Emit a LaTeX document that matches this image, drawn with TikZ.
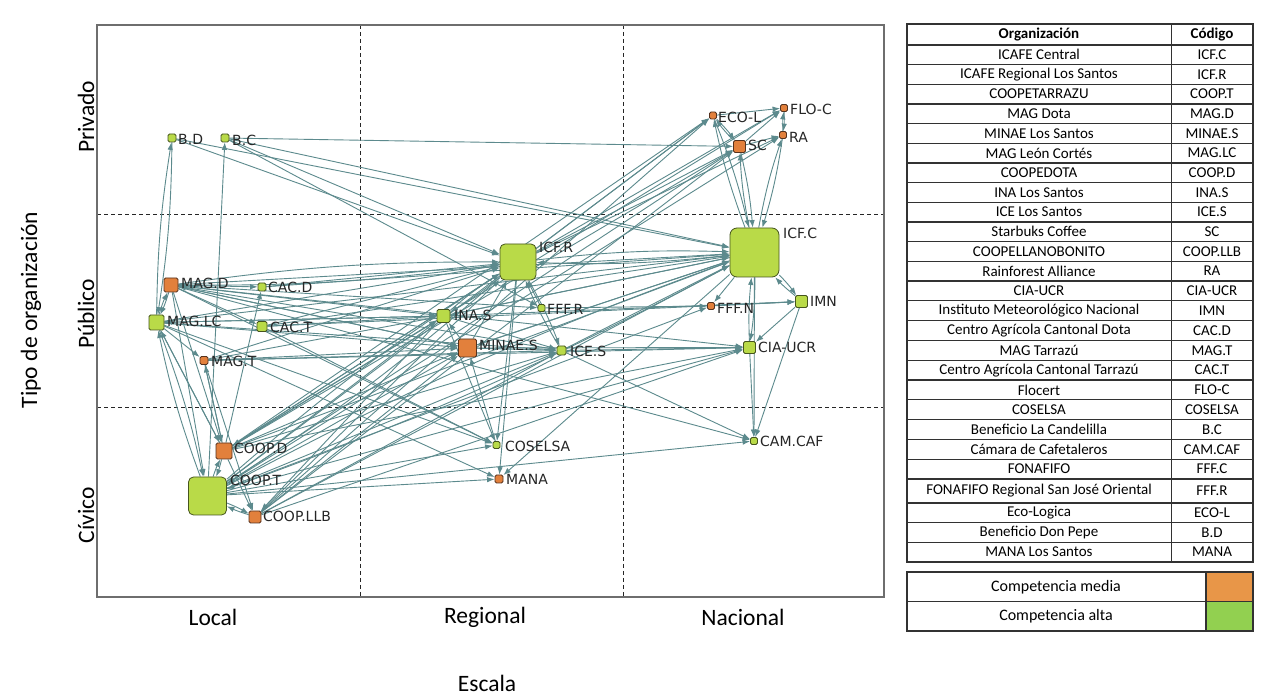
\documentclass[tikz,border=0pt]{standalone}
\usepackage{fontspec}
\setmainfont{Carlito}
\newfontfamily\labfont{DejaVu Sans}
\usetikzlibrary{arrows.meta,backgrounds}
\definecolor{edgec}{RGB}{92,138,141}
\definecolor{gfill}{RGB}{185,218,72}
\definecolor{gdraw}{RGB}{70,85,30}
\definecolor{ofill}{RGB}{226,128,60}
\definecolor{odraw}{RGB}{85,50,30}
\definecolor{legor}{RGB}{232,150,72}
\definecolor{leggr}{RGB}{146,208,80}
\definecolor{tabline}{RGB}{50,50,50}
\definecolor{framec}{RGB}{110,110,110}
\tikzset{
  gn/.style={rectangle, draw=gdraw, fill=gfill, line width=0.8pt, inner sep=0pt, rounded corners=1.5pt},
  on/.style={rectangle, draw=odraw, fill=ofill, line width=0.8pt, inner sep=0pt, rounded corners=1.5pt},
  lab/.style={anchor=west, inner sep=0pt, text=black!85, font=\labfont\fontsize{14}{14}\selectfont},
  ed/.style={draw=edgec, line width=0.9pt, -{Latex[length=7.5pt,width=5.5pt]}},
  axl/.style={inner sep=0pt, text=black, font=\fontsize{23.5}{24}\selectfont},
  tabt/.style={inner sep=0pt, font=\fontsize{15}{15}\selectfont, text=black},
  dsh/.style={draw=black!85, line width=0.9pt, dash pattern=on 4pt off 3pt}
}
\newcommand{\nnode}[8]{%
  \node[#2, minimum size=#3pt] (#1) at (#4,#5) {};
  \node[lab] (#1-l) at (#7,#8) {#6};
}
\begin{document}
\begin{tikzpicture}[x=1pt,y=-1pt]
\useasboundingbox (0,0) rectangle (1278,700);

% nodes
\nnode{bd}{gn}{8}{172}{138}{B.D}{178}{139}
\nnode{bc}{gn}{8}{225}{138}{B.C}{232}{140}
\nnode{magd}{on}{14}{171}{285}{MAG.D}{181}{283}
\nnode{cacd}{gn}{8}{262}{287}{CAC.D}{268}{287}
\nnode{maglc}{gn}{15}{156.5}{322.5}{MAG.LC}{167}{321}
\nnode{cact}{gn}{10}{262}{326.5}{CAC.T}{270}{327}
\nnode{magt}{on}{8}{204}{360.5}{MAG.T}{211}{361}
\nnode{coopd}{on}{16}{224}{451}{COOP.D}{234}{448}
\nnode{coopt}{gn,rounded corners=5pt}{38}{207.5}{496}{COOP.T}{230}{480}
\nnode{coopllb}{on}{12}{255}{517}{COOP.LLB}{263}{516}
\nnode{icfr}{gn,rounded corners=5pt}{36}{518}{262}{ICF.R}{539}{247}
\nnode{inas}{gn}{13}{443.5}{316}{INA.S}{454}{315}
\nnode{fffr}{gn}{7}{541.5}{308}{FFF.R}{547}{309}
\nnode{minaes}{on}{18}{467.5}{348}{MINAE.S}{479}{345}
\nnode{ices}{gn}{9}{561.5}{350.5}{ICE.S}{570}{351}
\nnode{coselsa}{gn}{7}{496.5}{445}{COSELSA}{505}{446}
\nnode{mana}{on}{8}{499}{479}{MANA}{506}{479}
\nnode{ecol}{on}{7}{713}{115.5}{ECO-L}{718}{117}
\nnode{floc}{on}{7}{784}{108}{FLO-C}{790}{109}
\nnode{ra}{on}{7}{783}{135}{RA}{789}{137}
\nnode{sc}{on}{12}{739.5}{146.5}{SC}{748}{145}
\nnode{icfc}{gn,rounded corners=7pt}{49}{754.5}{252.5}{ICF.C}{783}{233}
\nnode{fffn}{on}{7}{711}{306}{FFF.N}{717}{308}
\nnode{imn}{gn}{12}{801.5}{301.5}{IMN}{810}{301}
\nnode{ciaucr}{gn}{12}{749.5}{347.5}{CIA-UCR}{758}{347}
\nnode{camcaf}{gn}{7}{754}{441}{CAM.CAF}{760}{441}

\begin{scope}[on background layer]
  \fill[white] (0,0) rectangle (1278,700);
  % plot frame and grid
  \draw[dsh] (360,25) -- (360,597) (623,25) -- (623,597);
  \draw[dsh] (97,214) -- (884,214) (97,407) -- (884,407);
  \draw[draw=framec, line width=1.4pt] (97,25) rectangle (884,597);
  % mutual edges
  \foreach \a/\b in {maglc/bd, magd/maglc, coopd/coopt, coopt/coopllb, icfr/icfc, icfr/inas,
      icfr/ices, icfc/sc, icfc/ciaucr, icfc/imn, floc/ra, icfr/magd, icfr/coopt, icfc/coopt,
      maglc/coopt, ecol/sc, icfc/ecol, icfc/ra}
    {\draw[ed] (\a) to[bend left=4] (\b); \draw[ed] (\b) to[bend left=4] (\a);}
  % one-way edges
  \foreach \a/\b in {coopt/bc, magd/cacd, magd/cact, maglc/magt, coopd/maglc, magd/coopt,
      magt/coopd, coopd/cacd, coopd/magt, coopd/coopllb, magt/coopllb, magd/coopd, maglc/coopd,
      magd/icfc, magd/inas, magd/minaes, magd/fffr, magd/ices, magd/coselsa, magd/ciaucr, magd/camcaf,
      maglc/icfr, maglc/icfc, maglc/inas, maglc/minaes, maglc/ices, maglc/coselsa, maglc/mana,
      cacd/icfr, cacd/icfc, cact/icfr, cact/icfc, cact/inas, cact/imn, cact/coselsa,
      magt/icfr, magt/inas, magt/minaes, magt/ices, magt/ciaucr,
      bd/icfc, bd/icfr, bc/sc, bc/icfc, bc/icfr, bc/fffr,
      coopt/sc, coopt/inas, coopt/minaes, coopt/ices, coopt/ciaucr, coopt/camcaf, coopt/coselsa,
      coopt/mana, coopt/ecol, coopt/ra, coopt/fffn,
      coopd/icfr, coopd/icfc, coopd/sc, coopd/inas, coopd/minaes, coopd/ices, coopd/ciaucr, coopd/floc,
      coopd/ecol, coopllb/ecol,
      coopllb/icfr, coopllb/icfc, coopllb/sc, coopllb/minaes, coopllb/ciaucr, coopllb/ices,
      inas/coopllb, icfr/coopd, inas/maglc, minaes/magd,
      minaes/icfr, fffr/icfr, minaes/ices, inas/ices, minaes/inas, icfr/coselsa, icfr/mana,
      coselsa/minaes, inas/coselsa,
      inas/icfc, minaes/icfc, ices/icfc, icfr/sc, icfr/ecol, icfr/ra, icfr/floc,
      minaes/ciaucr, ices/ciaucr, inas/imn, icfc/inas, icfc/minaes, ices/camcaf, icfc/mana,
      icfc/fffn, fffn/imn, fffr/fffn,
      sc/floc, sc/ra, ecol/floc, imn/ciaucr, imn/camcaf, ciaucr/camcaf, icfc/camcaf}
    \draw[ed] (\a) -- (\b);
\end{scope}

% axis labels
\node[axl, rotate=90] (privado) at (86,117) {Privado};
\node[axl, rotate=90] (publico) at (86,314) {Público};
\node[axl, rotate=90] (civico) at (86,515) {Cívico};
\node[axl, rotate=90] (tipo) at (31,310) {Tipo de organización};
\node[axl] (local) at (213,617) {Local};
\node[axl] (regional) at (485,617) {Regional};
\node[axl] (nacional) at (743,617) {Nacional};
\node[axl] (escala) at (487,683) {Escala};

% table
\draw[tabline, line width=1.2pt] (907,24) rectangle (1253,562);
\draw[tabline, line width=1.2pt] (1171.5,24) -- (1171.5,562);
\node[tabt, font=\fontsize{15}{15}\selectfont\bfseries] (hdo) at (1039,35) {Organización};
\node[tabt, font=\fontsize{15}{15}\selectfont\bfseries] (hdc) at (1212,35) {Código};
\draw[tabline, line width=1.2pt] (907,45) -- (1253,45);
\foreach \yt/\yb/\o/\c [count=\i] in {
  45/64.7/ICAFE Central/ICF.C,
  64.7/84.3/ICAFE Regional Los Santos/ICF.R,
  84.3/104/COOPETARRAZU/COOP.T,
  104/123.7/MAG Dota/MAG.D,
  123.7/143.3/MINAE Los Santos/MINAE.S,
  143.3/163/MAG León Cortés/MAG.LC,
  163/182.7/COOPEDOTA/COOP.D,
  182.7/202.3/INA Los Santos/INA.S,
  202.3/222/ICE Los Santos/ICE.S,
  222/241.7/Starbuks Coffee/SC,
  241.7/261.3/COOPELLANOBONITO/COOP.LLB,
  261.3/281/Rainforest Alliance/RA,
  281/300.8/CIA-UCR/CIA-UCR,
  300.8/320.6/Instituto Meteorológico Nacional/IMN,
  320.6/340.4/Centro Agrícola Cantonal Dota/CAC.D,
  340.4/360.2/MAG Tarrazú/MAG.T,
  360.2/380/Centro Agrícola Cantonal Tarrazú/CAC.T,
  380/399.8/Flocert/FLO-C,
  399.8/419.6/COSELSA/COSELSA,
  419.6/439.4/Beneficio La Candelilla/B.C,
  439.4/459.2/Cámara de Cafetaleros/CAM.CAF,
  459.2/479/FONAFIFO/FFF.C,
  479/503/FONAFIFO Regional San José Oriental/FFF.R,
  503/522.7/Eco-Logica/ECO-L,
  522.7/542.3/Beneficio Don Pepe/B.D,
  542.3/562/MANA Los Santos/MANA}
{
  \node[tabt] (org\i) at (1039,{(\yt+\yb)/2}) {\o};
  \node[tabt] (cod\i) at (1212,{(\yt+\yb)/2}) {\c};
  \draw[tabline, line width=1.2pt] (907,\yb) -- (1253,\yb);
}

% legend
\fill[legor] (1206,572) rectangle (1253,601.5);
\fill[leggr] (1206,601.5) rectangle (1253,631);
\draw[tabline, line width=1.2pt] (907,572) rectangle (1253,631);
\draw[tabline, line width=1.2pt] (907,601.5) -- (1253,601.5) (1206,572) -- (1206,631);
\node[tabt, font=\fontsize{16}{16}\selectfont] (legm) at (1056,587) {Competencia media};
\node[tabt, font=\fontsize{16}{16}\selectfont] (lega) at (1056,616.5) {Competencia alta};
\end{tikzpicture}
\end{document}
